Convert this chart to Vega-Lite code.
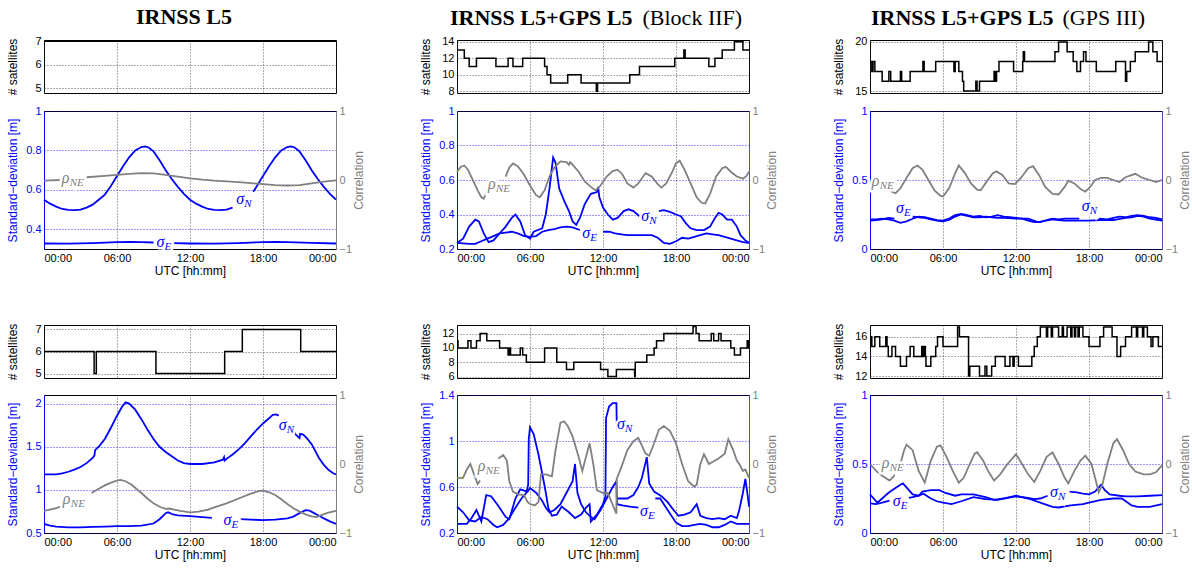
{
"$schema":"https://vega.github.io/schema/vega-lite/v6.json",
"padding":5,
"config":{
 "view":{"stroke":"black","strokeWidth":1},
 "font":"Liberation Sans",
 "axis":{"labelFont":"Liberation Sans","titleFont":"Liberation Sans","labelFontSize":11,"titleFontSize":12,"titleFontWeight":"normal","labelColor":"#000","titleColor":"#000","ticks":false,"domain":false,"gridDash":[1,2],"gridColor":"#333","gridOpacity":0.8,"labelPadding":3,"format":"~g"},
 "axisLeft":{"minExtent":20,"maxExtent":20,"titlePadding":5},
 "axisRight":{"minExtent":12,"maxExtent":12,"titlePadding":5,"titleAngle":270,"titleBaseline":"top"},
 "style":{
  "main":{"font":"Liberation Serif","fontStyle":"italic","fontSize":16,"align":"left","baseline":"middle"},
  "sub":{"font":"Liberation Serif","fontStyle":"italic","fontSize":11,"align":"left","baseline":"middle","dx":8,"dy":5}
 },
 "title":{"font":"Liberation Serif","fontSize":22,"fontWeight":"bold","color":"black","anchor":"start","frame":"bounds","offset":6}
},
"datasets":{
"sA":[{"t":0,"v":7},{"t":24,"v":7}],
"sB":[{"t":0,"v":13},{"t":0.6,"v":12},{"t":1,"v":11},{"t":1.6,"v":12},{"t":3.2,"v":11},{"t":4.2,"v":12},{"t":4.6,"v":11},{"t":5.4,"v":12},{"t":7.2,"v":11},{"t":7.4,"v":10},{"t":7.7,"v":9},{"t":9.1,"v":10},{"t":10.2,"v":9},{"t":11.45,"v":8},{"t":11.55,"v":9},{"t":14.2,"v":10},{"t":15,"v":11},{"t":17.9,"v":12},{"t":18.65,"v":13},{"t":18.75,"v":12},{"t":20.7,"v":11},{"t":21.2,"v":12},{"t":21.8,"v":13},{"t":22.8,"v":14},{"t":23.5,"v":13},{"t":24,"v":13}],
"sC":[{"t":0,"v":18},{"t":0.15,"v":17},{"t":0.25,"v":18},{"t":0.4,"v":17},{"t":1,"v":16},{"t":1.55,"v":17},{"t":1.7,"v":16},{"t":2.5,"v":17},{"t":2.6,"v":16},{"t":3.3,"v":17},{"t":4.35,"v":18},{"t":4.45,"v":17},{"t":5.4,"v":18},{"t":6.9,"v":17},{"t":7,"v":18},{"t":7.3,"v":17},{"t":7.6,"v":16},{"t":7.7,"v":15},{"t":8.7,"v":16},{"t":8.8,"v":15},{"t":9,"v":16},{"t":10.2,"v":17},{"t":10.3,"v":16},{"t":10.4,"v":17},{"t":10.6,"v":18},{"t":11.8,"v":17},{"t":12.55,"v":18},{"t":12.6,"v":19},{"t":12.7,"v":18},{"t":15.2,"v":19},{"t":15.5,"v":20},{"t":16.2,"v":19},{"t":16.7,"v":18},{"t":17,"v":17},{"t":17.3,"v":18},{"t":17.55,"v":19},{"t":17.75,"v":18},{"t":18.6,"v":17},{"t":20.2,"v":18},{"t":21,"v":16},{"t":21.1,"v":17},{"t":21.4,"v":18},{"t":21.8,"v":19},{"t":22.9,"v":20},{"t":23.25,"v":19},{"t":23.6,"v":18},{"t":24,"v":18}],
"sD":[{"t":0,"v":6},{"t":4.12,"v":5},{"t":4.3,"v":6},{"t":9.2,"v":5},{"t":14.85,"v":6},{"t":16.3,"v":7},{"t":21.1,"v":6},{"t":24,"v":6}],
"sE":[{"t":0,"v":11},{"t":0.08,"v":10},{"t":0.9,"v":11},{"t":1.15,"v":10},{"t":1.6,"v":11},{"t":1.9,"v":12},{"t":2.45,"v":11},{"t":3.5,"v":10},{"t":4.2,"v":9},{"t":4.3,"v":10},{"t":4.4,"v":9},{"t":5.2,"v":10},{"t":5.4,"v":9},{"t":5.7,"v":8},{"t":7.2,"v":10},{"t":8.2,"v":8},{"t":9,"v":7},{"t":9.6,"v":8},{"t":11.8,"v":7},{"t":12.4,"v":6},{"t":13.1,"v":7},{"t":14.6,"v":6},{"t":14.65,"v":8},{"t":15.6,"v":9},{"t":16.2,"v":10},{"t":16.4,"v":11},{"t":17,"v":12},{"t":19.4,"v":13},{"t":19.65,"v":12},{"t":19.9,"v":11},{"t":20.9,"v":12},{"t":21.1,"v":11},{"t":21.5,"v":12},{"t":21.7,"v":11},{"t":22.5,"v":10},{"t":22.8,"v":9},{"t":23.3,"v":10},{"t":23.85,"v":11},{"t":23.95,"v":10},{"t":24,"v":10}],
"sF":[{"t":0,"v":15},{"t":0.08,"v":16},{"t":0.15,"v":15},{"t":0.4,"v":16},{"t":0.8,"v":15},{"t":1.3,"v":16},{"t":1.4,"v":15},{"t":1.5,"v":14},{"t":1.8,"v":15},{"t":2.1,"v":14},{"t":2.5,"v":13},{"t":3,"v":14},{"t":3.3,"v":15},{"t":3.6,"v":14},{"t":4.25,"v":15},{"t":4.35,"v":14},{"t":4.45,"v":15},{"t":4.55,"v":14},{"t":4.6,"v":13},{"t":5,"v":14},{"t":5.4,"v":15},{"t":5.55,"v":16},{"t":6,"v":15},{"t":7.2,"v":17},{"t":7.35,"v":16},{"t":8.1,"v":12},{"t":8.2,"v":13},{"t":9,"v":12},{"t":9.45,"v":13},{"t":9.6,"v":12},{"t":10,"v":13},{"t":10.3,"v":14},{"t":11.1,"v":13},{"t":11.5,"v":14},{"t":11.75,"v":13},{"t":11.85,"v":14},{"t":12.2,"v":13},{"t":13.3,"v":14},{"t":13.5,"v":15},{"t":13.75,"v":16},{"t":14,"v":17},{"t":14.5,"v":16},{"t":14.6,"v":17},{"t":14.9,"v":16},{"t":15,"v":17},{"t":15.5,"v":16},{"t":15.8,"v":17},{"t":15.9,"v":16},{"t":16.2,"v":17},{"t":16.5,"v":16},{"t":16.6,"v":17},{"t":16.8,"v":16},{"t":16.9,"v":17},{"t":17.1,"v":16},{"t":17.2,"v":17},{"t":17.5,"v":16},{"t":18,"v":15},{"t":18.9,"v":16},{"t":19.2,"v":17},{"t":19.9,"v":16},{"t":20.3,"v":14},{"t":20.6,"v":15},{"t":21,"v":16},{"t":21.5,"v":17},{"t":21.9,"v":16},{"t":22,"v":17},{"t":22.4,"v":16},{"t":22.5,"v":17},{"t":22.8,"v":16},{"t":23.1,"v":15},{"t":23.25,"v":16},{"t":23.7,"v":15},{"t":24,"v":15}],
"dA":[
{"t":0,"v":0.55,"s":"N"},{"t":0.5,"v":0.53,"s":"N"},{"t":1,"v":0.515,"s":"N"},{"t":1.5,"v":0.503,"s":"N"},{"t":2,"v":0.498,"s":"N"},{"t":2.5,"v":0.497,"s":"N"},{"t":3,"v":0.5,"s":"N"},{"t":3.5,"v":0.51,"s":"N"},{"t":4,"v":0.525,"s":"N"},{"t":4.5,"v":0.55,"s":"N"},{"t":5,"v":0.576,"s":"N"},{"t":5.5,"v":0.62,"s":"N"},{"t":6,"v":0.67,"s":"N"},{"t":6.5,"v":0.72,"s":"N"},{"t":7,"v":0.765,"s":"N"},{"t":7.5,"v":0.8,"s":"N"},{"t":8,"v":0.817,"s":"N"},{"t":8.3,"v":0.82,"s":"N"},{"t":8.6,"v":0.815,"s":"N"},{"t":9,"v":0.795,"s":"N"},{"t":9.5,"v":0.75,"s":"N"},{"t":10,"v":0.7,"s":"N"},{"t":10.5,"v":0.655,"s":"N"},{"t":11,"v":0.615,"s":"N"},{"t":11.5,"v":0.58,"s":"N"},{"t":12,"v":0.55,"s":"N"},{"t":12.5,"v":0.53,"s":"N"},{"t":13,"v":0.515,"s":"N"},{"t":13.5,"v":0.503,"s":"N"},{"t":14,"v":0.498,"s":"N"},{"t":14.5,"v":0.497,"s":"N"},{"t":15,"v":0.5,"s":"N"},{"t":15.5,"v":0.51,"s":"N"},
{"t":17.2,"v":0.59,"s":"N2"},{"t":17.5,"v":0.62,"s":"N2"},{"t":18,"v":0.67,"s":"N2"},{"t":18.5,"v":0.72,"s":"N2"},{"t":19,"v":0.765,"s":"N2"},{"t":19.5,"v":0.8,"s":"N2"},{"t":20,"v":0.817,"s":"N2"},{"t":20.3,"v":0.82,"s":"N2"},{"t":20.6,"v":0.815,"s":"N2"},{"t":21,"v":0.795,"s":"N2"},{"t":21.5,"v":0.75,"s":"N2"},{"t":22,"v":0.7,"s":"N2"},{"t":22.5,"v":0.655,"s":"N2"},{"t":23,"v":0.615,"s":"N2"},{"t":23.5,"v":0.58,"s":"N2"},{"t":24,"v":0.55,"s":"N2"},
{"t":0,"v":0.328,"s":"E"},{"t":2,"v":0.327,"s":"E"},{"t":4,"v":0.33,"s":"E"},{"t":6,"v":0.335,"s":"E"},{"t":7,"v":0.336,"s":"E"},{"t":8,"v":0.335,"s":"E"},{"t":9,"v":0.333,"s":"E"},
{"t":10.7,"v":0.33,"s":"E2"},{"t":12,"v":0.328,"s":"E2"},{"t":14,"v":0.327,"s":"E2"},{"t":16,"v":0.33,"s":"E2"},{"t":18,"v":0.335,"s":"E2"},{"t":19,"v":0.336,"s":"E2"},{"t":20,"v":0.335,"s":"E2"},{"t":22,"v":0.331,"s":"E2"},{"t":24,"v":0.328,"s":"E2"},
{"t":0,"v":-0.01,"s":"R"},{"t":1.3,"v":0,"s":"R"},
{"t":3.5,"v":0.04,"s":"R2"},{"t":5,"v":0.06,"s":"R2"},{"t":6,"v":0.075,"s":"R2"},{"t":7,"v":0.09,"s":"R2"},{"t":8,"v":0.1,"s":"R2"},{"t":9,"v":0.095,"s":"R2"},{"t":10,"v":0.075,"s":"R2"},{"t":11,"v":0.05,"s":"R2"},{"t":12,"v":0.025,"s":"R2"},{"t":13,"v":0.005,"s":"R2"},{"t":14,"v":-0.01,"s":"R2"},{"t":15,"v":-0.02,"s":"R2"},{"t":16,"v":-0.03,"s":"R2"},{"t":17,"v":-0.045,"s":"R2"},{"t":18,"v":-0.06,"s":"R2"},{"t":19,"v":-0.075,"s":"R2"},{"t":20,"v":-0.08,"s":"R2"},{"t":21,"v":-0.075,"s":"R2"},{"t":22,"v":-0.05,"s":"R2"},{"t":23,"v":-0.025,"s":"R2"},{"t":24,"v":-0.005,"s":"R2"}],
"dB":[
{"t":0,"v":0.235,"s":"N"},{"t":0.5,"v":0.26,"s":"N"},{"t":1,"v":0.33,"s":"N"},{"t":1.5,"v":0.37,"s":"N"},{"t":1.8,"v":0.36,"s":"N"},{"t":2.2,"v":0.29,"s":"N"},{"t":2.6,"v":0.24,"s":"N"},{"t":3,"v":0.25,"s":"N"},{"t":3.5,"v":0.29,"s":"N"},{"t":4,"v":0.33,"s":"N"},{"t":4.5,"v":0.38,"s":"N"},{"t":4.8,"v":0.4,"s":"N"},{"t":5.2,"v":0.36,"s":"N"},{"t":5.6,"v":0.28,"s":"N"},{"t":6,"v":0.26,"s":"N"},{"t":6.3,"v":0.3,"s":"N"},{"t":7,"v":0.32,"s":"N"},{"t":7.3,"v":0.4,"s":"N"},{"t":7.6,"v":0.55,"s":"N"},{"t":7.9,"v":0.73,"s":"N"},{"t":8.1,"v":0.7,"s":"N"},{"t":8.4,"v":0.55,"s":"N"},{"t":8.8,"v":0.48,"s":"N"},{"t":9.2,"v":0.42,"s":"N"},{"t":9.5,"v":0.36,"s":"N"},{"t":9.8,"v":0.34,"s":"N"},{"t":10.1,"v":0.38,"s":"N"},{"t":10.5,"v":0.46,"s":"N"},{"t":11,"v":0.52,"s":"N"},{"t":11.5,"v":0.53,"s":"N"},{"t":11.6,"v":0.56,"s":"N"},{"t":11.7,"v":0.5,"s":"N"},{"t":12,"v":0.44,"s":"N"},{"t":12.4,"v":0.4,"s":"N"},{"t":12.8,"v":0.37,"s":"N"},{"t":13.2,"v":0.38,"s":"N"},{"t":13.7,"v":0.42,"s":"N"},{"t":14.1,"v":0.43,"s":"N"},{"t":14.5,"v":0.42,"s":"N"},{"t":15,"v":0.39,"s":"N"},
{"t":16.6,"v":0.42,"s":"N2"},{"t":17,"v":0.425,"s":"N2"},{"t":17.5,"v":0.415,"s":"N2"},{"t":18,"v":0.4,"s":"N2"},{"t":18.4,"v":0.39,"s":"N2"},{"t":18.8,"v":0.35,"s":"N2"},{"t":19.2,"v":0.32,"s":"N2"},{"t":19.7,"v":0.31,"s":"N2"},{"t":20.3,"v":0.31,"s":"N2"},{"t":20.8,"v":0.33,"s":"N2"},{"t":21.2,"v":0.38,"s":"N2"},{"t":21.5,"v":0.41,"s":"N2"},{"t":21.8,"v":0.4,"s":"N2"},{"t":22.2,"v":0.37,"s":"N2"},{"t":22.6,"v":0.37,"s":"N2"},{"t":23,"v":0.33,"s":"N2"},{"t":23.3,"v":0.28,"s":"N2"},{"t":23.7,"v":0.25,"s":"N2"},{"t":24,"v":0.235,"s":"N2"},
{"t":0,"v":0.235,"s":"E"},{"t":1,"v":0.23,"s":"E"},{"t":1.5,"v":0.23,"s":"E"},{"t":2,"v":0.245,"s":"E"},{"t":2.5,"v":0.26,"s":"E"},{"t":3,"v":0.275,"s":"E"},{"t":3.5,"v":0.29,"s":"E"},{"t":4,"v":0.295,"s":"E"},{"t":4.5,"v":0.3,"s":"E"},{"t":5,"v":0.29,"s":"E"},{"t":5.5,"v":0.275,"s":"E"},{"t":6,"v":0.27,"s":"E"},{"t":6.5,"v":0.275,"s":"E"},{"t":7,"v":0.3,"s":"E"},{"t":7.5,"v":0.31,"s":"E"},{"t":8,"v":0.315,"s":"E"},{"t":8.5,"v":0.325,"s":"E"},{"t":9,"v":0.33,"s":"E"},{"t":9.5,"v":0.325,"s":"E"},{"t":10.1,"v":0.31,"s":"E"},
{"t":12,"v":0.3,"s":"E2"},{"t":12.5,"v":0.3,"s":"E2"},{"t":13,"v":0.29,"s":"E2"},{"t":13.5,"v":0.285,"s":"E2"},{"t":14,"v":0.28,"s":"E2"},{"t":15,"v":0.28,"s":"E2"},{"t":16,"v":0.28,"s":"E2"},{"t":16.5,"v":0.265,"s":"E2"},{"t":17,"v":0.235,"s":"E2"},{"t":17.5,"v":0.23,"s":"E2"},{"t":18,"v":0.245,"s":"E2"},{"t":18.5,"v":0.265,"s":"E2"},{"t":19,"v":0.26,"s":"E2"},{"t":19.5,"v":0.27,"s":"E2"},{"t":20,"v":0.28,"s":"E2"},{"t":20.5,"v":0.29,"s":"E2"},{"t":21,"v":0.285,"s":"E2"},{"t":21.5,"v":0.28,"s":"E2"},{"t":22,"v":0.27,"s":"E2"},{"t":22.5,"v":0.26,"s":"E2"},{"t":23,"v":0.25,"s":"E2"},{"t":23.5,"v":0.24,"s":"E2"},{"t":24,"v":0.235,"s":"E2"},
{"t":0,"v":0.12,"s":"R"},{"t":0.3,"v":0.19,"s":"R"},{"t":0.6,"v":0.21,"s":"R"},{"t":0.9,"v":0.15,"s":"R"},{"t":1.3,"v":0,"s":"R"},{"t":1.7,"v":-0.15,"s":"R"},{"t":2,"v":-0.25,"s":"R"},{"t":2.2,"v":-0.27,"s":"R"},{"t":2.5,"v":-0.15,"s":"R"},
{"t":4.0,"v":0.05,"s":"R2"},{"t":4.3,"v":0.18,"s":"R2"},{"t":4.6,"v":0.24,"s":"R2"},{"t":5,"v":0.2,"s":"R2"},{"t":5.5,"v":0.08,"s":"R2"},{"t":6,"v":-0.08,"s":"R2"},{"t":6.5,"v":-0.22,"s":"R2"},{"t":6.8,"v":-0.25,"s":"R2"},{"t":7.2,"v":-0.15,"s":"R2"},{"t":7.6,"v":0.05,"s":"R2"},{"t":8,"v":0.18,"s":"R2"},{"t":8.5,"v":0.27,"s":"R2"},{"t":9,"v":0.26,"s":"R2"},{"t":9.2,"v":0.22,"s":"R2"},{"t":9.3,"v":0.26,"s":"R2"},{"t":9.6,"v":0.2,"s":"R2"},{"t":10,"v":0.12,"s":"R2"},{"t":10.5,"v":-0.02,"s":"R2"},{"t":11,"v":-0.1,"s":"R2"},{"t":11.4,"v":-0.15,"s":"R2"},{"t":11.8,"v":-0.08,"s":"R2"},{"t":12.3,"v":0.05,"s":"R2"},{"t":12.8,"v":0.13,"s":"R2"},{"t":13.2,"v":0.15,"s":"R2"},{"t":13.6,"v":0.08,"s":"R2"},{"t":14,"v":-0.05,"s":"R2"},{"t":14.5,"v":-0.11,"s":"R2"},{"t":14.9,"v":-0.05,"s":"R2"},{"t":15.5,"v":0.1,"s":"R2"},{"t":16,"v":0.05,"s":"R2"},{"t":16.5,"v":-0.06,"s":"R2"},{"t":16.8,"v":-0.11,"s":"R2"},{"t":17.2,"v":-0.05,"s":"R2"},{"t":17.7,"v":0.12,"s":"R2"},{"t":18,"v":0.24,"s":"R2"},{"t":18.3,"v":0.28,"s":"R2"},{"t":18.7,"v":0.15,"s":"R2"},{"t":19.2,"v":-0.05,"s":"R2"},{"t":19.7,"v":-0.25,"s":"R2"},{"t":20.1,"v":-0.33,"s":"R2"},{"t":20.4,"v":-0.34,"s":"R2"},{"t":20.8,"v":-0.2,"s":"R2"},{"t":21.3,"v":0.05,"s":"R2"},{"t":21.8,"v":0.17,"s":"R2"},{"t":22.1,"v":0.19,"s":"R2"},{"t":22.5,"v":0.12,"s":"R2"},{"t":23,"v":0.05,"s":"R2"},{"t":23.5,"v":0.02,"s":"R2"},{"t":23.8,"v":0.06,"s":"R2"},{"t":24,"v":0.12,"s":"R2"}],
"dC":[
{"t":1.5,"v":-0.1,"s":"R"},{"t":1.8,"v":-0.17,"s":"R"},{"t":2.1,"v":-0.19,"s":"R"},{"t":2.5,"v":-0.12,"s":"R"},{"t":3,"v":0.03,"s":"R"},{"t":3.5,"v":0.17,"s":"R"},{"t":3.9,"v":0.21,"s":"R"},{"t":4.3,"v":0.15,"s":"R"},{"t":4.8,"v":0,"s":"R"},{"t":5.3,"v":-0.15,"s":"R"},{"t":5.8,"v":-0.23,"s":"R"},{"t":6,"v":-0.24,"s":"R"},{"t":6.5,"v":-0.12,"s":"R"},{"t":7,"v":0.1,"s":"R"},{"t":7.3,"v":0.21,"s":"R"},{"t":7.8,"v":0.1,"s":"R"},{"t":8.3,"v":-0.05,"s":"R"},{"t":8.8,"v":-0.14,"s":"R"},{"t":9.1,"v":-0.15,"s":"R"},{"t":9.6,"v":-0.02,"s":"R"},{"t":10.1,"v":0.1,"s":"R"},{"t":10.4,"v":0.125,"s":"R"},{"t":10.9,"v":0.07,"s":"R"},{"t":11.4,"v":-0.05,"s":"R"},{"t":11.9,"v":-0.06,"s":"R"},{"t":12.4,"v":0.03,"s":"R"},{"t":13,"v":0.17,"s":"R"},{"t":13.4,"v":0.2,"s":"R"},{"t":13.9,"v":0.07,"s":"R"},{"t":14.4,"v":-0.1,"s":"R"},{"t":15,"v":-0.2,"s":"R"},{"t":15.5,"v":-0.21,"s":"R"},{"t":16,"v":-0.1,"s":"R"},{"t":16.3,"v":-0.01,"s":"R"},{"t":16.8,"v":-0.05,"s":"R"},{"t":17.3,"v":-0.13,"s":"R"},{"t":17.7,"v":-0.17,"s":"R"},{"t":18.1,"v":-0.1,"s":"R"},{"t":18.5,"v":0,"s":"R"},{"t":19,"v":0.03,"s":"R"},{"t":19.5,"v":0.03,"s":"R"},{"t":20,"v":0,"s":"R"},{"t":20.5,"v":-0.03,"s":"R"},{"t":21,"v":0.04,"s":"R"},{"t":21.8,"v":0.09,"s":"R"},{"t":22.4,"v":0.03,"s":"R"},{"t":23,"v":0,"s":"R"},{"t":23.5,"v":-0.03,"s":"R"},{"t":24,"v":0,"s":"R"},
{"t":0,"v":0.205,"s":"E"},{"t":0.5,"v":0.21,"s":"E"},{"t":1,"v":0.215,"s":"E"},{"t":1.5,"v":0.225,"s":"E"},{"t":2,"v":0.22,"s":"E"},
{"t":3.5,"v":0.235,"s":"E2"},{"t":4,"v":0.23,"s":"E2"},{"t":4.5,"v":0.225,"s":"E2"},{"t":5,"v":0.215,"s":"E2"},{"t":5.5,"v":0.205,"s":"E2"},{"t":6,"v":0.2,"s":"E2"},{"t":6.5,"v":0.21,"s":"E2"},{"t":7,"v":0.235,"s":"E2"},{"t":7.5,"v":0.25,"s":"E2"},{"t":8,"v":0.24,"s":"E2"},{"t":8.5,"v":0.23,"s":"E2"},{"t":9,"v":0.23,"s":"E2"},{"t":9.5,"v":0.235,"s":"E2"},{"t":10,"v":0.23,"s":"E2"},{"t":10.5,"v":0.225,"s":"E2"},{"t":11,"v":0.225,"s":"E2"},{"t":12,"v":0.22,"s":"E2"},{"t":13,"v":0.22,"s":"E2"},{"t":13.8,"v":0.195,"s":"E2"},{"t":14.5,"v":0.205,"s":"E2"},{"t":15,"v":0.215,"s":"E2"},{"t":15.5,"v":0.21,"s":"E2"},{"t":16,"v":0.205,"s":"E2"},{"t":17,"v":0.205,"s":"E2"},{"t":18,"v":0.205,"s":"E2"},{"t":19,"v":0.21,"s":"E2"},{"t":20,"v":0.21,"s":"E2"},{"t":21,"v":0.225,"s":"E2"},{"t":21.5,"v":0.23,"s":"E2"},{"t":22,"v":0.24,"s":"E2"},{"t":22.5,"v":0.235,"s":"E2"},{"t":23,"v":0.22,"s":"E2"},{"t":24,"v":0.205,"s":"E2"},
{"t":0,"v":0.215,"s":"N"},{"t":0.5,"v":0.215,"s":"N"},{"t":1,"v":0.22,"s":"N"},{"t":1.5,"v":0.215,"s":"N"},{"t":2,"v":0.205,"s":"N"},{"t":2.5,"v":0.19,"s":"N"},{"t":3,"v":0.2,"s":"N"},{"t":3.5,"v":0.22,"s":"N"},{"t":4,"v":0.235,"s":"N"},{"t":4.5,"v":0.23,"s":"N"},{"t":5,"v":0.22,"s":"N"},{"t":5.5,"v":0.21,"s":"N"},{"t":6,"v":0.205,"s":"N"},{"t":6.5,"v":0.22,"s":"N"},{"t":7,"v":0.245,"s":"N"},{"t":7.5,"v":0.255,"s":"N"},{"t":8,"v":0.245,"s":"N"},{"t":8.5,"v":0.235,"s":"N"},{"t":9,"v":0.24,"s":"N"},{"t":9.5,"v":0.23,"s":"N"},{"t":10,"v":0.235,"s":"N"},{"t":10.5,"v":0.245,"s":"N"},{"t":11,"v":0.235,"s":"N"},{"t":11.5,"v":0.23,"s":"N"},{"t":12,"v":0.225,"s":"N"},{"t":12.5,"v":0.22,"s":"N"},{"t":13,"v":0.205,"s":"N"},{"t":13.5,"v":0.195,"s":"N"},{"t":14,"v":0.195,"s":"N"},{"t":14.5,"v":0.21,"s":"N"},{"t":15,"v":0.22,"s":"N"},{"t":15.5,"v":0.215,"s":"N"},{"t":16,"v":0.22,"s":"N"},{"t":16.5,"v":0.22,"s":"N"},{"t":17.2,"v":0.22,"s":"N"},
{"t":18.8,"v":0.22,"s":"N2"},{"t":19.5,"v":0.215,"s":"N2"},{"t":20,"v":0.225,"s":"N2"},{"t":20.5,"v":0.235,"s":"N2"},{"t":21,"v":0.23,"s":"N2"},{"t":21.5,"v":0.24,"s":"N2"},{"t":22,"v":0.245,"s":"N2"},{"t":22.5,"v":0.24,"s":"N2"},{"t":23,"v":0.23,"s":"N2"},{"t":23.5,"v":0.225,"s":"N2"},{"t":24,"v":0.215,"s":"N2"}],
"dD":[
{"t":0,"v":1.18,"s":"N"},{"t":1,"v":1.18,"s":"N"},{"t":1.5,"v":1.19,"s":"N"},{"t":2,"v":1.21,"s":"N"},{"t":2.5,"v":1.235,"s":"N"},{"t":3,"v":1.265,"s":"N"},{"t":3.5,"v":1.31,"s":"N"},{"t":4,"v":1.37,"s":"N"},{"t":4.15,"v":1.4,"s":"N"},{"t":4.2,"v":1.46,"s":"N"},{"t":4.5,"v":1.5,"s":"N"},{"t":5,"v":1.59,"s":"N"},{"t":5.5,"v":1.72,"s":"N"},{"t":6,"v":1.86,"s":"N"},{"t":6.4,"v":1.96,"s":"N"},{"t":6.7,"v":2.015,"s":"N"},{"t":7,"v":2,"s":"N"},{"t":7.5,"v":1.93,"s":"N"},{"t":8,"v":1.82,"s":"N"},{"t":8.5,"v":1.7,"s":"N"},{"t":9,"v":1.59,"s":"N"},{"t":9.5,"v":1.5,"s":"N"},{"t":10,"v":1.44,"s":"N"},{"t":10.5,"v":1.39,"s":"N"},{"t":11,"v":1.34,"s":"N"},{"t":11.5,"v":1.31,"s":"N"},{"t":12,"v":1.3,"s":"N"},{"t":13,"v":1.3,"s":"N"},{"t":14,"v":1.32,"s":"N"},{"t":14.7,"v":1.35,"s":"N"},{"t":14.8,"v":1.38,"s":"N"},{"t":14.85,"v":1.34,"s":"N"},{"t":15,"v":1.36,"s":"N"},{"t":15.5,"v":1.41,"s":"N"},{"t":16,"v":1.47,"s":"N"},{"t":16.5,"v":1.54,"s":"N"},{"t":17,"v":1.62,"s":"N"},{"t":17.5,"v":1.7,"s":"N"},{"t":18,"v":1.77,"s":"N"},{"t":18.5,"v":1.83,"s":"N"},{"t":18.8,"v":1.87,"s":"N"},{"t":19.1,"v":1.875,"s":"N"},{"t":19.3,"v":1.86,"s":"N"},
{"t":20.4,"v":1.69,"s":"N2"},{"t":20.7,"v":1.64,"s":"N2"},{"t":21,"v":1.6,"s":"N2"},{"t":21.05,"v":1.65,"s":"N2"},{"t":21.3,"v":1.64,"s":"N2"},{"t":21.6,"v":1.6,"s":"N2"},{"t":22,"v":1.53,"s":"N2"},{"t":22.3,"v":1.45,"s":"N2"},{"t":22.6,"v":1.37,"s":"N2"},{"t":23,"v":1.29,"s":"N2"},{"t":23.4,"v":1.23,"s":"N2"},{"t":23.8,"v":1.19,"s":"N2"},{"t":24,"v":1.18,"s":"N2"},
{"t":0,"v":0.605,"s":"E"},{"t":0.5,"v":0.585,"s":"E"},{"t":1,"v":0.575,"s":"E"},{"t":2,"v":0.565,"s":"E"},{"t":3,"v":0.565,"s":"E"},{"t":4,"v":0.57,"s":"E"},{"t":5,"v":0.575,"s":"E"},{"t":6,"v":0.58,"s":"E"},{"t":7,"v":0.58,"s":"E"},{"t":8,"v":0.585,"s":"E"},{"t":9,"v":0.61,"s":"E"},{"t":9.5,"v":0.66,"s":"E"},{"t":10,"v":0.73,"s":"E"},{"t":10.2,"v":0.74,"s":"E"},{"t":10.6,"v":0.715,"s":"E"},{"t":11,"v":0.705,"s":"E"},{"t":12,"v":0.695,"s":"E"},{"t":13,"v":0.685,"s":"E"},{"t":13.8,"v":0.675,"s":"E"},
{"t":16.1,"v":0.66,"s":"E2"},{"t":17,"v":0.655,"s":"E2"},{"t":18,"v":0.65,"s":"E2"},{"t":19,"v":0.655,"s":"E2"},{"t":20,"v":0.67,"s":"E2"},{"t":20.5,"v":0.69,"s":"E2"},{"t":21,"v":0.73,"s":"E2"},{"t":21.5,"v":0.765,"s":"E2"},{"t":21.8,"v":0.76,"s":"E2"},{"t":22.2,"v":0.73,"s":"E2"},{"t":22.6,"v":0.7,"s":"E2"},{"t":23,"v":0.67,"s":"E2"},{"t":23.5,"v":0.635,"s":"E2"},{"t":24,"v":0.605,"s":"E2"},
{"t":0,"v":-0.68,"s":"R"},{"t":0.5,"v":-0.66,"s":"R"},{"t":1,"v":-0.64,"s":"R"},{"t":1.5,"v":-0.61,"s":"R"},
{"t":3.9,"v":-0.42,"s":"R2"},{"t":4.5,"v":-0.36,"s":"R2"},{"t":5,"v":-0.31,"s":"R2"},{"t":5.5,"v":-0.27,"s":"R2"},{"t":6,"v":-0.24,"s":"R2"},{"t":6.3,"v":-0.23,"s":"R2"},{"t":6.7,"v":-0.25,"s":"R2"},{"t":7.2,"v":-0.3,"s":"R2"},{"t":8,"v":-0.42,"s":"R2"},{"t":8.5,"v":-0.5,"s":"R2"},{"t":9,"v":-0.57,"s":"R2"},{"t":9.5,"v":-0.62,"s":"R2"},{"t":10,"v":-0.65,"s":"R2"},{"t":10.3,"v":-0.645,"s":"R2"},{"t":10.7,"v":-0.66,"s":"R2"},{"t":11.2,"v":-0.68,"s":"R2"},{"t":12,"v":-0.7,"s":"R2"},{"t":12.7,"v":-0.69,"s":"R2"},{"t":13.5,"v":-0.66,"s":"R2"},{"t":14,"v":-0.63,"s":"R2"},{"t":15,"v":-0.57,"s":"R2"},{"t":16,"v":-0.5,"s":"R2"},{"t":17,"v":-0.43,"s":"R2"},{"t":17.7,"v":-0.39,"s":"R2"},{"t":18,"v":-0.385,"s":"R2"},{"t":18.5,"v":-0.41,"s":"R2"},{"t":19,"v":-0.45,"s":"R2"},{"t":19.5,"v":-0.51,"s":"R2"},{"t":20,"v":-0.58,"s":"R2"},{"t":20.5,"v":-0.64,"s":"R2"},{"t":21,"v":-0.69,"s":"R2"},{"t":21.5,"v":-0.73,"s":"R2"},{"t":22,"v":-0.76,"s":"R2"},{"t":22.4,"v":-0.77,"s":"R2"},{"t":22.8,"v":-0.74,"s":"R2"},{"t":23.3,"v":-0.71,"s":"R2"},{"t":24,"v":-0.68,"s":"R2"}],
"dE":[
{"t":0,"v":0.43,"s":"N"},{"t":0.5,"v":0.38,"s":"N"},{"t":1,"v":0.31,"s":"N"},{"t":1.5,"v":0.3,"s":"N"},{"t":2,"v":0.34,"s":"N"},{"t":2.5,"v":0.32,"s":"N"},{"t":3,"v":0.27,"s":"N"},{"t":3.3,"v":0.25,"s":"N"},{"t":3.8,"v":0.27,"s":"N"},{"t":4.3,"v":0.33,"s":"N"},{"t":4.8,"v":0.42,"s":"N"},{"t":5.3,"v":0.5,"s":"N"},{"t":5.7,"v":0.55,"s":"N"},{"t":5.85,"v":0.62,"s":"N"},{"t":5.9,"v":1.02,"s":"N"},{"t":6,"v":1.12,"s":"N"},{"t":6.3,"v":1.06,"s":"N"},{"t":6.7,"v":0.88,"s":"N"},{"t":7,"v":0.72,"s":"N"},{"t":7.3,"v":0.55,"s":"N"},{"t":7.5,"v":0.42,"s":"N"},{"t":7.8,"v":0.35,"s":"N"},{"t":8.2,"v":0.36,"s":"N"},{"t":8.6,"v":0.43,"s":"N"},{"t":9.2,"v":0.38,"s":"N"},{"t":9.7,"v":0.33,"s":"N"},{"t":10.2,"v":0.36,"s":"N"},{"t":10.6,"v":0.42,"s":"N"},{"t":10.9,"v":0.45,"s":"N"},{"t":11,"v":0.3,"s":"N"},{"t":11.5,"v":0.36,"s":"N"},{"t":12,"v":0.45,"s":"N"},{"t":12.2,"v":0.52,"s":"N"},{"t":12.25,"v":1.2,"s":"N"},{"t":12.5,"v":1.3,"s":"N"},{"t":12.8,"v":1.33,"s":"N"},{"t":13.1,"v":1.33,"s":"N"},{"t":13.14,"v":1.1,"s":"N"},
{"t":13.2,"v":0.5,"s":"N2"},{"t":13.6,"v":0.5,"s":"N2"},{"t":14,"v":0.5,"s":"N2"},{"t":14.5,"v":0.53,"s":"N2"},{"t":14.9,"v":0.6,"s":"N2"},{"t":15.2,"v":0.68,"s":"N2"},{"t":15.6,"v":0.86,"s":"N2"},{"t":15.8,"v":0.63,"s":"N2"},{"t":16.2,"v":0.56,"s":"N2"},{"t":16.8,"v":0.52,"s":"N2"},{"t":17.3,"v":0.47,"s":"N2"},{"t":17.8,"v":0.4,"s":"N2"},{"t":18.2,"v":0.35,"s":"N2"},{"t":18.7,"v":0.36,"s":"N2"},{"t":19.2,"v":0.38,"s":"N2"},{"t":19.7,"v":0.45,"s":"N2"},{"t":20,"v":0.35,"s":"N2"},{"t":20.5,"v":0.33,"s":"N2"},{"t":21,"v":0.32,"s":"N2"},{"t":21.5,"v":0.33,"s":"N2"},{"t":22,"v":0.32,"s":"N2"},{"t":22.5,"v":0.35,"s":"N2"},{"t":23,"v":0.33,"s":"N2"},{"t":23.2,"v":0.4,"s":"N2"},{"t":23.5,"v":0.55,"s":"N2"},{"t":23.7,"v":0.67,"s":"N2"},{"t":23.9,"v":0.52,"s":"N2"},{"t":24,"v":0.43,"s":"N2"},
{"t":0,"v":0.28,"s":"E"},{"t":0.8,"v":0.28,"s":"E"},{"t":1.2,"v":0.33,"s":"E"},{"t":1.6,"v":0.4,"s":"E"},{"t":2,"v":0.3,"s":"E"},{"t":2.4,"v":0.53,"s":"E"},{"t":2.8,"v":0.52,"s":"E"},{"t":3.3,"v":0.45,"s":"E"},{"t":4,"v":0.34,"s":"E"},{"t":4.3,"v":0.32,"s":"E"},{"t":4.8,"v":0.5,"s":"E"},{"t":5.2,"v":0.58,"s":"E"},{"t":5.8,"v":0.56,"s":"E"},{"t":6,"v":0.59,"s":"E"},{"t":6.5,"v":0.55,"s":"E"},{"t":7,"v":0.48,"s":"E"},{"t":7.3,"v":0.42,"s":"E"},{"t":7.6,"v":0.38,"s":"E"},{"t":8,"v":0.4,"s":"E"},{"t":8.5,"v":0.45,"s":"E"},{"t":9,"v":0.55,"s":"E"},{"t":9.5,"v":0.65,"s":"E"},{"t":9.7,"v":0.8,"s":"E"},{"t":9.9,"v":0.55,"s":"E"},{"t":10.2,"v":0.45,"s":"E"},{"t":10.6,"v":0.38,"s":"E"},{"t":11,"v":0.34,"s":"E"},{"t":11.3,"v":0.32,"s":"E"},{"t":11.8,"v":0.4,"s":"E"},{"t":12.3,"v":0.5,"s":"E"},{"t":12.8,"v":0.6,"s":"E"},{"t":13.1,"v":0.65,"s":"E"},{"t":13.15,"v":0.45,"s":"E"},{"t":13.6,"v":0.44,"s":"E"},{"t":14.2,"v":0.43,"s":"E"},{"t":14.9,"v":0.42,"s":"E"},
{"t":16.3,"v":0.5,"s":"E2"},{"t":16.7,"v":0.5,"s":"E2"},{"t":17,"v":0.45,"s":"E2"},{"t":17.5,"v":0.37,"s":"E2"},{"t":18,"v":0.29,"s":"E2"},{"t":18.5,"v":0.26,"s":"E2"},{"t":19,"v":0.26,"s":"E2"},{"t":19.5,"v":0.27,"s":"E2"},{"t":20,"v":0.28,"s":"E2"},{"t":20.5,"v":0.27,"s":"E2"},{"t":21,"v":0.25,"s":"E2"},{"t":21.5,"v":0.25,"s":"E2"},{"t":22,"v":0.27,"s":"E2"},{"t":22.5,"v":0.3,"s":"E2"},{"t":23,"v":0.28,"s":"E2"},{"t":23.5,"v":0.28,"s":"E2"},{"t":24,"v":0.28,"s":"E2"},
{"t":0,"v":-0.2,"s":"R"},{"t":0.5,"v":-0.2,"s":"R"},{"t":0.8,"v":-0.08,"s":"R"},{"t":1.1,"v":0,"s":"R"},{"t":1.4,"v":-0.15,"s":"R"},{"t":1.7,"v":-0.29,"s":"R"},{"t":1.9,"v":-0.24,"s":"R"},
{"t":3.4,"v":0.08,"s":"R2"},{"t":3.8,"v":0.13,"s":"R2"},{"t":4.1,"v":0.05,"s":"R2"},{"t":4.3,"v":-0.25,"s":"R2"},{"t":4.6,"v":-0.4,"s":"R2"},{"t":5,"v":-0.44,"s":"R2"},{"t":5.5,"v":-0.45,"s":"R2"},{"t":5.8,"v":-0.55,"s":"R2"},{"t":6,"v":-0.58,"s":"R2"},{"t":6.4,"v":-0.6,"s":"R2"},{"t":6.7,"v":-0.55,"s":"R2"},{"t":6.9,"v":-0.15,"s":"R2"},{"t":7.3,"v":-0.15,"s":"R2"},{"t":7.8,"v":-0.18,"s":"R2"},{"t":8.1,"v":0.2,"s":"R2"},{"t":8.5,"v":0.6,"s":"R2"},{"t":8.8,"v":0.62,"s":"R2"},{"t":9.1,"v":0.55,"s":"R2"},{"t":9.5,"v":0.4,"s":"R2"},{"t":10,"v":0.1,"s":"R2"},{"t":10.3,"v":-0.1,"s":"R2"},{"t":10.6,"v":0.1,"s":"R2"},{"t":10.9,"v":0.3,"s":"R2"},{"t":11.2,"v":0,"s":"R2"},{"t":11.5,"v":-0.38,"s":"R2"},{"t":12,"v":-0.42,"s":"R2"},{"t":12.4,"v":-0.42,"s":"R2"},{"t":12.7,"v":-0.55,"s":"R2"},{"t":13.1,"v":-0.72,"s":"R2"},{"t":13.12,"v":-0.22,"s":"R2"},{"t":13.5,"v":-0.05,"s":"R2"},{"t":14,"v":0.2,"s":"R2"},{"t":14.5,"v":0.33,"s":"R2"},{"t":14.9,"v":0.38,"s":"R2"},{"t":15.5,"v":0.15,"s":"R2"},{"t":15.8,"v":0.12,"s":"R2"},{"t":16.2,"v":0.3,"s":"R2"},{"t":16.6,"v":0.5,"s":"R2"},{"t":17,"v":0.55,"s":"R2"},{"t":17.5,"v":0.48,"s":"R2"},{"t":18,"v":0.3,"s":"R2"},{"t":18.5,"v":0,"s":"R2"},{"t":19,"v":-0.25,"s":"R2"},{"t":19.5,"v":-0.33,"s":"R2"},{"t":19.7,"v":-0.3,"s":"R2"},{"t":20,"v":0,"s":"R2"},{"t":20.3,"v":0.14,"s":"R2"},{"t":20.7,"v":0,"s":"R2"},{"t":21,"v":0.03,"s":"R2"},{"t":21.5,"v":0.08,"s":"R2"},{"t":22,"v":0.15,"s":"R2"},{"t":22.3,"v":0.36,"s":"R2"},{"t":22.7,"v":0.2,"s":"R2"},{"t":23,"v":0.05,"s":"R2"},{"t":23.2,"v":0,"s":"R2"},{"t":23.5,"v":-0.1,"s":"R2"},{"t":23.7,"v":-0.08,"s":"R2"},{"t":24,"v":-0.2,"s":"R2"}],
"dF":[
{"t":0,"v":0,"s":"R"},{"t":0.5,"v":-0.1,"s":"R"},{"t":1,"v":-0.17,"s":"R"},{"t":1.6,"v":-0.24,"s":"R"},{"t":2,"v":-0.17,"s":"R"},{"t":2.5,"v":0,"s":"R"},{"t":2.8,"v":0.2,"s":"R"},{"t":3,"v":0.28,"s":"R"},{"t":3.5,"v":0.2,"s":"R"},{"t":4,"v":-0.1,"s":"R"},{"t":4.5,"v":-0.27,"s":"R"},{"t":5,"v":0.05,"s":"R"},{"t":5.5,"v":0.25,"s":"R"},{"t":5.8,"v":0.27,"s":"R"},{"t":6.3,"v":0.1,"s":"R"},{"t":6.8,"v":-0.1,"s":"R"},{"t":7.3,"v":-0.27,"s":"R"},{"t":7.7,"v":-0.2,"s":"R"},{"t":8.2,"v":0,"s":"R"},{"t":8.6,"v":0.15,"s":"R"},{"t":8.8,"v":0.17,"s":"R"},{"t":9.3,"v":0.05,"s":"R"},{"t":9.7,"v":-0.1,"s":"R"},{"t":10.2,"v":-0.24,"s":"R"},{"t":10.7,"v":-0.15,"s":"R"},{"t":11.3,"v":0,"s":"R"},{"t":12,"v":0.14,"s":"R"},{"t":12.5,"v":0,"s":"R"},{"t":13,"v":-0.15,"s":"R"},{"t":13.5,"v":-0.26,"s":"R"},{"t":14,"v":-0.1,"s":"R"},{"t":14.5,"v":0.1,"s":"R"},{"t":15,"v":0.17,"s":"R"},{"t":15.5,"v":0,"s":"R"},{"t":16,"v":-0.2,"s":"R"},{"t":16.3,"v":-0.28,"s":"R"},{"t":16.8,"v":-0.1,"s":"R"},{"t":17.3,"v":0.05,"s":"R"},{"t":17.7,"v":0.12,"s":"R"},{"t":18.2,"v":0,"s":"R"},{"t":18.5,"v":-0.2,"s":"R"},{"t":18.8,"v":-0.41,"s":"R"},{"t":19.1,"v":-0.3,"s":"R"},{"t":19.5,"v":0,"s":"R"},{"t":20,"v":0.3,"s":"R"},{"t":20.3,"v":0.36,"s":"R"},{"t":20.8,"v":0.2,"s":"R"},{"t":21.3,"v":0,"s":"R"},{"t":21.8,"v":-0.11,"s":"R"},{"t":22.5,"v":-0.15,"s":"R"},{"t":23,"v":-0.15,"s":"R"},{"t":23.5,"v":-0.12,"s":"R"},{"t":24,"v":-0.02,"s":"R"},
{"t":0,"v":0.28,"s":"N"},{"t":0.3,"v":0.25,"s":"N"},{"t":0.6,"v":0.22,"s":"N"},{"t":1,"v":0.25,"s":"N"},{"t":1.5,"v":0.29,"s":"N"},{"t":2,"v":0.32,"s":"N"},{"t":2.5,"v":0.35,"s":"N"},{"t":2.7,"v":0.36,"s":"N"},{"t":3,"v":0.33,"s":"N"},{"t":3.5,"v":0.28,"s":"N"},{"t":4,"v":0.27,"s":"N"},{"t":4.3,"v":0.3,"s":"N"},{"t":5,"v":0.31,"s":"N"},{"t":5.7,"v":0.31,"s":"N"},{"t":6.2,"v":0.29,"s":"N"},{"t":7,"v":0.27,"s":"N"},{"t":7.5,"v":0.28,"s":"N"},{"t":8.5,"v":0.28,"s":"N"},{"t":9.5,"v":0.26,"s":"N"},{"t":10.2,"v":0.24,"s":"N"},{"t":11,"v":0.25,"s":"N"},{"t":12,"v":0.265,"s":"N"},{"t":13,"v":0.255,"s":"N"},{"t":13.5,"v":0.245,"s":"N"},{"t":14,"v":0.25,"s":"N"},{"t":14.6,"v":0.27,"s":"N"},
{"t":16.4,"v":0.3,"s":"N2"},{"t":17,"v":0.295,"s":"N2"},{"t":17.5,"v":0.285,"s":"N2"},{"t":18,"v":0.28,"s":"N2"},{"t":18.5,"v":0.3,"s":"N2"},{"t":18.8,"v":0.33,"s":"N2"},{"t":19,"v":0.35,"s":"N2"},{"t":19.3,"v":0.31,"s":"N2"},{"t":19.7,"v":0.28,"s":"N2"},{"t":20.5,"v":0.27,"s":"N2"},{"t":21,"v":0.265,"s":"N2"},{"t":22,"v":0.265,"s":"N2"},{"t":23,"v":0.27,"s":"N2"},{"t":24,"v":0.275,"s":"N2"},
{"t":0,"v":0.215,"s":"E"},{"t":0.5,"v":0.21,"s":"E"},{"t":1,"v":0.22,"s":"E"},{"t":1.6,"v":0.235,"s":"E"},
{"t":3.2,"v":0.255,"s":"E2"},{"t":3.5,"v":0.26,"s":"E2"},{"t":4,"v":0.27,"s":"E2"},{"t":4.4,"v":0.285,"s":"E2"},{"t":5,"v":0.25,"s":"E2"},{"t":5.5,"v":0.23,"s":"E2"},{"t":6,"v":0.22,"s":"E2"},{"t":6.7,"v":0.21,"s":"E2"},{"t":7.5,"v":0.23,"s":"E2"},{"t":8.5,"v":0.26,"s":"E2"},{"t":9.5,"v":0.245,"s":"E2"},{"t":10.5,"v":0.24,"s":"E2"},{"t":11.5,"v":0.26,"s":"E2"},{"t":12,"v":0.27,"s":"E2"},{"t":13,"v":0.25,"s":"E2"},{"t":14,"v":0.22,"s":"E2"},{"t":15,"v":0.19,"s":"E2"},{"t":15.5,"v":0.185,"s":"E2"},{"t":16.5,"v":0.2,"s":"E2"},{"t":17.5,"v":0.21,"s":"E2"},{"t":18,"v":0.22,"s":"E2"},{"t":19,"v":0.24,"s":"E2"},{"t":20,"v":0.25,"s":"E2"},{"t":20.7,"v":0.25,"s":"E2"},{"t":21.5,"v":0.2,"s":"E2"},{"t":22,"v":0.19,"s":"E2"},{"t":23,"v":0.19,"s":"E2"},{"t":24,"v":0.21,"s":"E2"}],
"labels":[
{"p":"A","t":15.8,"v":0.555,"m":"σ","sub":"N"},{"p":"A","t":9.25,"v":0.338,"m":"σ","sub":"E"},{"p":"A","t":1.45,"v":0.03,"m":"ρ","sub":"NE"},
{"p":"B","t":15.15,"v":0.39,"m":"σ","sub":"N"},{"p":"B","t":10.3,"v":0.29,"m":"σ","sub":"E"},{"p":"B","t":2.55,"v":-0.06,"m":"ρ","sub":"NE"},
{"p":"C","t":17.4,"v":0.31,"m":"σ","sub":"N"},{"p":"C","t":2.13,"v":0.3,"m":"σ","sub":"E"},{"p":"C","t":0.14,"v":-0.01,"m":"ρ","sub":"NE"},
{"p":"D","t":19.3,"v":1.75,"m":"σ","sub":"N"},{"p":"D","t":14.75,"v":0.655,"m":"σ","sub":"E"},{"p":"D","t":1.55,"v":-0.5,"m":"ρ","sub":"NE"},
{"p":"E","t":13.15,"v":1.15,"m":"σ","sub":"N"},{"p":"E","t":15.05,"v":0.39,"m":"σ","sub":"E"},{"p":"E","t":1.7,"v":-0.03,"m":"ρ","sub":"NE"},
{"p":"F","t":14.8,"v":0.3,"m":"σ","sub":"N"},{"p":"F","t":1.87,"v":0.23,"m":"σ","sub":"E"},{"p":"F","t":0.96,"v":0.02,"m":"ρ","sub":"NE"}]
},
"spacing":53,
"hconcat":[
{"spacing":45,"vconcat":[
 {"spacing":18,"bounds":"flush","vconcat":[
  {"width":292,"height":53,"title":{"text":"IRNSS L5","dx":130},"data":{"name":"sA"},"mark":{"type":"line","interpolate":"step-after","color":"black","strokeWidth":1.5},
   "encoding":{"x":{"field":"t","type":"quantitative","scale":{"domain":[0,24],"nice":false,"zero":false},"axis":{"values":[0,6,12,18,24],"labels":false,"title":null,"grid":true}},
    "y":{"field":"v","type":"quantitative","scale":{"domain":[4.8,7.05],"nice":false,"zero":false},"axis":{"values":[5,6,7],"title":"# satellites","grid":true}}}},
  {"width":292,"height":138,
   "encoding":{"x":{"field":"t","type":"quantitative","scale":{"domain":[0,24],"nice":false,"zero":false},"axis":{"values":[0,6,12,18,24],"labelExpr":"datum.value == 24 ? '00:00' : (datum.value < 10 ? '0' : '') + datum.value + ':00'","title":"UTC [hh:mm]","grid":true,"titlePadding":2}}},
   "layer":[
    {"encoding":{"y":{"field":"v","type":"quantitative","scale":{"domain":[0.3,1],"nice":false,"zero":false},"axis":{"orient":"left","values":[0.4,0.6,0.8,1],"title":"Standard−deviation [m]","grid":true,"gridColor":"#0000ff","labelColor":"#0000ff","titleColor":"#0000ff","domain":true,"domainColor":"#0000ff"}}},
     "layer":[
      {"data":{"name":"dA"},"transform":[{"filter":"indexof(datum.s,'R') != 0"}],"mark":{"type":"line","color":"#0000ff","strokeWidth":1.8},"encoding":{"detail":{"field":"s"}}},
      {"data":{"name":"labels"},"transform":[{"filter":"datum.p=='A' && datum.m=='σ'"}],"mark":{"type":"text","style":"main","fill":"white","stroke":"white","strokeWidth":5},"encoding":{"text":{"field":"m"}}},
      {"data":{"name":"labels"},"transform":[{"filter":"datum.p=='A' && datum.m=='σ'"}],"mark":{"type":"text","style":"sub","fill":"white","stroke":"white","strokeWidth":5},"encoding":{"text":{"field":"sub"}}},
      {"data":{"name":"labels"},"transform":[{"filter":"datum.p=='A' && datum.m=='σ'"}],"mark":{"type":"text","style":"main","color":"#0000ff"},"encoding":{"text":{"field":"m"}}},
      {"data":{"name":"labels"},"transform":[{"filter":"datum.p=='A' && datum.m=='σ'"}],"mark":{"type":"text","style":"sub","color":"#0000ff"},"encoding":{"text":{"field":"sub"}}}
     ]},
    {"encoding":{"y":{"field":"v","type":"quantitative","scale":{"domain":[-1,1],"nice":false},"axis":{"orient":"right","values":[-1,0,1],"title":"Correlation","grid":false,"labelColor":"#808080","titleColor":"#808080","domain":true,"domainColor":"#808080"}}},
     "layer":[
      {"data":{"name":"dA"},"transform":[{"filter":"indexof(datum.s,'R') == 0"}],"mark":{"type":"line","color":"#808080","strokeWidth":1.8},"encoding":{"detail":{"field":"s"}}},
      {"data":{"name":"labels"},"transform":[{"filter":"datum.p=='A' && datum.m=='ρ'"}],"mark":{"type":"text","style":"main","fill":"white","stroke":"white","strokeWidth":5},"encoding":{"text":{"field":"m"}}},
      {"data":{"name":"labels"},"transform":[{"filter":"datum.p=='A' && datum.m=='ρ'"}],"mark":{"type":"text","style":"sub","fill":"white","stroke":"white","strokeWidth":5},"encoding":{"text":{"field":"sub"}}},
      {"data":{"name":"labels"},"transform":[{"filter":"datum.p=='A' && datum.m=='ρ'"}],"mark":{"type":"text","style":"main","color":"#808080"},"encoding":{"text":{"field":"m"}}},
      {"data":{"name":"labels"},"transform":[{"filter":"datum.p=='A' && datum.m=='ρ'"}],"mark":{"type":"text","style":"sub","color":"#808080"},"encoding":{"text":{"field":"sub"}}}
     ]}
   ],
   "resolve":{"scale":{"y":"independent"}}}
 ]},
 {"spacing":17,"bounds":"flush","vconcat":[
  {"width":292,"height":53,"data":{"name":"sD"},"mark":{"type":"line","interpolate":"step-after","color":"black","strokeWidth":1.5},
   "encoding":{"x":{"field":"t","type":"quantitative","scale":{"domain":[0,24],"nice":false,"zero":false},"axis":{"values":[0,6,12,18,24],"labels":false,"title":null,"grid":true}},
    "y":{"field":"v","type":"quantitative","scale":{"domain":[4.8,7.2],"nice":false,"zero":false},"axis":{"values":[5,6,7],"title":"# satellites","grid":true}}}},
  {"width":292,"height":138,
   "encoding":{"x":{"field":"t","type":"quantitative","scale":{"domain":[0,24],"nice":false,"zero":false},"axis":{"values":[0,6,12,18,24],"labelExpr":"datum.value == 24 ? '00:00' : (datum.value < 10 ? '0' : '') + datum.value + ':00'","title":"UTC [hh:mm]","grid":true,"titlePadding":2}}},
   "layer":[
    {"encoding":{"y":{"field":"v","type":"quantitative","scale":{"domain":[0.5,2.1],"nice":false,"zero":false},"axis":{"orient":"left","values":[0.5,1,1.5,2],"title":"Standard−deviation [m]","grid":true,"gridColor":"#0000ff","labelColor":"#0000ff","titleColor":"#0000ff","domain":true,"domainColor":"#0000ff"}}},
     "layer":[
      {"data":{"name":"dD"},"transform":[{"filter":"indexof(datum.s,'R') != 0"}],"mark":{"type":"line","color":"#0000ff","strokeWidth":1.8},"encoding":{"detail":{"field":"s"}}},
      {"data":{"name":"labels"},"transform":[{"filter":"datum.p=='D' && datum.m=='σ'"}],"mark":{"type":"text","style":"main","fill":"white","stroke":"white","strokeWidth":5},"encoding":{"text":{"field":"m"}}},
      {"data":{"name":"labels"},"transform":[{"filter":"datum.p=='D' && datum.m=='σ'"}],"mark":{"type":"text","style":"sub","fill":"white","stroke":"white","strokeWidth":5},"encoding":{"text":{"field":"sub"}}},
      {"data":{"name":"labels"},"transform":[{"filter":"datum.p=='D' && datum.m=='σ'"}],"mark":{"type":"text","style":"main","color":"#0000ff"},"encoding":{"text":{"field":"m"}}},
      {"data":{"name":"labels"},"transform":[{"filter":"datum.p=='D' && datum.m=='σ'"}],"mark":{"type":"text","style":"sub","color":"#0000ff"},"encoding":{"text":{"field":"sub"}}}
     ]},
    {"encoding":{"y":{"field":"v","type":"quantitative","scale":{"domain":[-1,1],"nice":false},"axis":{"orient":"right","values":[-1,0,1],"title":"Correlation","grid":false,"labelColor":"#808080","titleColor":"#808080","domain":true,"domainColor":"#808080"}}},
     "layer":[
      {"data":{"name":"dD"},"transform":[{"filter":"indexof(datum.s,'R') == 0"}],"mark":{"type":"line","color":"#808080","strokeWidth":1.8},"encoding":{"detail":{"field":"s"}}},
      {"data":{"name":"labels"},"transform":[{"filter":"datum.p=='D' && datum.m=='ρ'"}],"mark":{"type":"text","style":"main","fill":"white","stroke":"white","strokeWidth":5},"encoding":{"text":{"field":"m"}}},
      {"data":{"name":"labels"},"transform":[{"filter":"datum.p=='D' && datum.m=='ρ'"}],"mark":{"type":"text","style":"sub","fill":"white","stroke":"white","strokeWidth":5},"encoding":{"text":{"field":"sub"}}},
      {"data":{"name":"labels"},"transform":[{"filter":"datum.p=='D' && datum.m=='ρ'"}],"mark":{"type":"text","style":"main","color":"#808080"},"encoding":{"text":{"field":"m"}}},
      {"data":{"name":"labels"},"transform":[{"filter":"datum.p=='D' && datum.m=='ρ'"}],"mark":{"type":"text","style":"sub","color":"#808080"},"encoding":{"text":{"field":"sub"}}}
     ]}
   ],
   "resolve":{"scale":{"y":"independent"}}}
 ]}
]},
{"spacing":45,"vconcat":[
 {"spacing":18,"bounds":"flush","title":{"text":"(Block IIF)","fontWeight":"normal","dx":224,"dy":24,"offset":0},"vconcat":[
  {"width":292,"height":53,"title":{"text":"IRNSS L5+GPS L5","dx":31},"data":{"name":"sB"},"mark":{"type":"line","interpolate":"step-after","color":"black","strokeWidth":1.5},
   "encoding":{"x":{"field":"t","type":"quantitative","scale":{"domain":[0,24],"nice":false,"zero":false},"axis":{"values":[0,6,12,18,24],"labels":false,"title":null,"grid":true}},
    "y":{"field":"v","type":"quantitative","scale":{"domain":[7.8,14.2],"nice":false,"zero":false},"axis":{"values":[8,10,12,14],"title":"# satellites","grid":true}}}},
  {"width":292,"height":138,
   "encoding":{"x":{"field":"t","type":"quantitative","scale":{"domain":[0,24],"nice":false,"zero":false},"axis":{"values":[0,6,12,18,24],"labelExpr":"datum.value == 24 ? '00:00' : (datum.value < 10 ? '0' : '') + datum.value + ':00'","title":"UTC [hh:mm]","grid":true,"titlePadding":2}}},
   "layer":[
    {"encoding":{"y":{"field":"v","type":"quantitative","scale":{"domain":[0.2,1],"nice":false,"zero":false},"axis":{"orient":"left","values":[0.2,0.4,0.6,0.8,1],"title":"Standard−deviation [m]","grid":true,"gridColor":"#0000ff","labelColor":"#0000ff","titleColor":"#0000ff","domain":true,"domainColor":"#0000ff"}}},
     "layer":[
      {"data":{"name":"dB"},"transform":[{"filter":"indexof(datum.s,'R') != 0"}],"mark":{"type":"line","color":"#0000ff","strokeWidth":1.8},"encoding":{"detail":{"field":"s"}}},
      {"data":{"name":"labels"},"transform":[{"filter":"datum.p=='B' && datum.m=='σ'"}],"mark":{"type":"text","style":"main","fill":"white","stroke":"white","strokeWidth":5},"encoding":{"text":{"field":"m"}}},
      {"data":{"name":"labels"},"transform":[{"filter":"datum.p=='B' && datum.m=='σ'"}],"mark":{"type":"text","style":"sub","fill":"white","stroke":"white","strokeWidth":5},"encoding":{"text":{"field":"sub"}}},
      {"data":{"name":"labels"},"transform":[{"filter":"datum.p=='B' && datum.m=='σ'"}],"mark":{"type":"text","style":"main","color":"#0000ff"},"encoding":{"text":{"field":"m"}}},
      {"data":{"name":"labels"},"transform":[{"filter":"datum.p=='B' && datum.m=='σ'"}],"mark":{"type":"text","style":"sub","color":"#0000ff"},"encoding":{"text":{"field":"sub"}}}
     ]},
    {"encoding":{"y":{"field":"v","type":"quantitative","scale":{"domain":[-1,1],"nice":false},"axis":{"orient":"right","values":[-1,0,1],"title":"Correlation","grid":false,"labelColor":"#808080","titleColor":"#808080","domain":true,"domainColor":"#5050a0"}}},
     "layer":[
      {"data":{"name":"dB"},"transform":[{"filter":"indexof(datum.s,'R') == 0"}],"mark":{"type":"line","color":"#808080","strokeWidth":1.8},"encoding":{"detail":{"field":"s"}}},
      {"data":{"name":"labels"},"transform":[{"filter":"datum.p=='B' && datum.m=='ρ'"}],"mark":{"type":"text","style":"main","fill":"white","stroke":"white","strokeWidth":5},"encoding":{"text":{"field":"m"}}},
      {"data":{"name":"labels"},"transform":[{"filter":"datum.p=='B' && datum.m=='ρ'"}],"mark":{"type":"text","style":"sub","fill":"white","stroke":"white","strokeWidth":5},"encoding":{"text":{"field":"sub"}}},
      {"data":{"name":"labels"},"transform":[{"filter":"datum.p=='B' && datum.m=='ρ'"}],"mark":{"type":"text","style":"main","color":"#808080"},"encoding":{"text":{"field":"m"}}},
      {"data":{"name":"labels"},"transform":[{"filter":"datum.p=='B' && datum.m=='ρ'"}],"mark":{"type":"text","style":"sub","color":"#808080"},"encoding":{"text":{"field":"sub"}}}
     ]}
   ],
   "resolve":{"scale":{"y":"independent"}}}
 ]},
 {"spacing":17,"bounds":"flush","vconcat":[
  {"width":292,"height":53,"data":{"name":"sE"},"mark":{"type":"line","interpolate":"step-after","color":"black","strokeWidth":1.5},
   "encoding":{"x":{"field":"t","type":"quantitative","scale":{"domain":[0,24],"nice":false,"zero":false},"axis":{"values":[0,6,12,18,24],"labels":false,"title":null,"grid":true}},
    "y":{"field":"v","type":"quantitative","scale":{"domain":[5.8,13.2],"nice":false,"zero":false},"axis":{"values":[6,8,10,12],"title":"# satellites","grid":true}}}},
  {"width":292,"height":138,
   "encoding":{"x":{"field":"t","type":"quantitative","scale":{"domain":[0,24],"nice":false,"zero":false},"axis":{"values":[0,6,12,18,24],"labelExpr":"datum.value == 24 ? '00:00' : (datum.value < 10 ? '0' : '') + datum.value + ':00'","title":"UTC [hh:mm]","grid":true,"titlePadding":2}}},
   "layer":[
    {"encoding":{"y":{"field":"v","type":"quantitative","scale":{"domain":[0.2,1.4],"nice":false,"zero":false},"axis":{"orient":"left","values":[0.2,0.6,1,1.4],"title":"Standard−deviation [m]","grid":true,"gridColor":"#0000ff","labelColor":"#0000ff","titleColor":"#0000ff","domain":true,"domainColor":"#0000ff"}}},
     "layer":[
      {"data":{"name":"dE"},"transform":[{"filter":"indexof(datum.s,'R') != 0"}],"mark":{"type":"line","color":"#0000ff","strokeWidth":1.8},"encoding":{"detail":{"field":"s"}}},
      {"data":{"name":"labels"},"transform":[{"filter":"datum.p=='E' && datum.m=='σ'"}],"mark":{"type":"text","style":"main","fill":"white","stroke":"white","strokeWidth":5},"encoding":{"text":{"field":"m"}}},
      {"data":{"name":"labels"},"transform":[{"filter":"datum.p=='E' && datum.m=='σ'"}],"mark":{"type":"text","style":"sub","fill":"white","stroke":"white","strokeWidth":5},"encoding":{"text":{"field":"sub"}}},
      {"data":{"name":"labels"},"transform":[{"filter":"datum.p=='E' && datum.m=='σ'"}],"mark":{"type":"text","style":"main","color":"#0000ff"},"encoding":{"text":{"field":"m"}}},
      {"data":{"name":"labels"},"transform":[{"filter":"datum.p=='E' && datum.m=='σ'"}],"mark":{"type":"text","style":"sub","color":"#0000ff"},"encoding":{"text":{"field":"sub"}}}
     ]},
    {"encoding":{"y":{"field":"v","type":"quantitative","scale":{"domain":[-1,1],"nice":false},"axis":{"orient":"right","values":[-1,0,1],"title":"Correlation","grid":false,"labelColor":"#808080","titleColor":"#808080","domain":true,"domainColor":"#5050a0"}}},
     "layer":[
      {"data":{"name":"dE"},"transform":[{"filter":"indexof(datum.s,'R') == 0"}],"mark":{"type":"line","color":"#808080","strokeWidth":1.8},"encoding":{"detail":{"field":"s"}}},
      {"data":{"name":"labels"},"transform":[{"filter":"datum.p=='E' && datum.m=='ρ'"}],"mark":{"type":"text","style":"main","fill":"white","stroke":"white","strokeWidth":5},"encoding":{"text":{"field":"m"}}},
      {"data":{"name":"labels"},"transform":[{"filter":"datum.p=='E' && datum.m=='ρ'"}],"mark":{"type":"text","style":"sub","fill":"white","stroke":"white","strokeWidth":5},"encoding":{"text":{"field":"sub"}}},
      {"data":{"name":"labels"},"transform":[{"filter":"datum.p=='E' && datum.m=='ρ'"}],"mark":{"type":"text","style":"main","color":"#808080"},"encoding":{"text":{"field":"m"}}},
      {"data":{"name":"labels"},"transform":[{"filter":"datum.p=='E' && datum.m=='ρ'"}],"mark":{"type":"text","style":"sub","color":"#808080"},"encoding":{"text":{"field":"sub"}}}
     ]}
   ],
   "resolve":{"scale":{"y":"independent"}}}
 ]}
]},
{"spacing":45,"vconcat":[
 {"spacing":18,"bounds":"flush","title":{"text":"(GPS III)","fontWeight":"normal","dx":231,"dy":24,"offset":0},"vconcat":[
  {"width":292,"height":53,"title":{"text":"IRNSS L5+GPS L5","dx":39},"data":{"name":"sC"},"mark":{"type":"line","interpolate":"step-after","color":"black","strokeWidth":1.5},
   "encoding":{"x":{"field":"t","type":"quantitative","scale":{"domain":[0,24],"nice":false,"zero":false},"axis":{"values":[0,6,12,18,24],"labels":false,"title":null,"grid":true}},
    "y":{"field":"v","type":"quantitative","scale":{"domain":[14.8,20.2],"nice":false,"zero":false},"axis":{"values":[15,20],"title":"# satellites","grid":true}}}},
  {"width":292,"height":138,
   "encoding":{"x":{"field":"t","type":"quantitative","scale":{"domain":[0,24],"nice":false,"zero":false},"axis":{"values":[0,6,12,18,24],"labelExpr":"datum.value == 24 ? '00:00' : (datum.value < 10 ? '0' : '') + datum.value + ':00'","title":"UTC [hh:mm]","grid":true,"titlePadding":2}}},
   "layer":[
    {"encoding":{"y":{"field":"v","type":"quantitative","scale":{"domain":[0,1],"nice":false,"zero":false},"axis":{"orient":"left","values":[0,0.5,1],"title":"Standard−deviation [m]","grid":true,"gridColor":"#0000ff","labelColor":"#0000ff","titleColor":"#0000ff","domain":true,"domainColor":"#0000ff"}}},
     "layer":[
      {"data":{"name":"dC"},"transform":[{"filter":"indexof(datum.s,'R') != 0"}],"mark":{"type":"line","color":"#0000ff","strokeWidth":1.8},"encoding":{"detail":{"field":"s"}}},
      {"data":{"name":"labels"},"transform":[{"filter":"datum.p=='C' && datum.m=='σ'"}],"mark":{"type":"text","style":"main","fill":"white","stroke":"white","strokeWidth":5},"encoding":{"text":{"field":"m"}}},
      {"data":{"name":"labels"},"transform":[{"filter":"datum.p=='C' && datum.m=='σ'"}],"mark":{"type":"text","style":"sub","fill":"white","stroke":"white","strokeWidth":5},"encoding":{"text":{"field":"sub"}}},
      {"data":{"name":"labels"},"transform":[{"filter":"datum.p=='C' && datum.m=='σ'"}],"mark":{"type":"text","style":"main","color":"#0000ff"},"encoding":{"text":{"field":"m"}}},
      {"data":{"name":"labels"},"transform":[{"filter":"datum.p=='C' && datum.m=='σ'"}],"mark":{"type":"text","style":"sub","color":"#0000ff"},"encoding":{"text":{"field":"sub"}}}
     ]},
    {"encoding":{"y":{"field":"v","type":"quantitative","scale":{"domain":[-1,1],"nice":false},"axis":{"orient":"right","values":[-1,0,1],"title":"Correlation","grid":false,"labelColor":"#808080","titleColor":"#808080","domain":true,"domainColor":"#5050a0"}}},
     "layer":[
      {"data":{"name":"dC"},"transform":[{"filter":"indexof(datum.s,'R') == 0"}],"mark":{"type":"line","color":"#808080","strokeWidth":1.8},"encoding":{"detail":{"field":"s"}}},
      {"data":{"name":"labels"},"transform":[{"filter":"datum.p=='C' && datum.m=='ρ'"}],"mark":{"type":"text","style":"main","fill":"white","stroke":"white","strokeWidth":5},"encoding":{"text":{"field":"m"}}},
      {"data":{"name":"labels"},"transform":[{"filter":"datum.p=='C' && datum.m=='ρ'"}],"mark":{"type":"text","style":"sub","fill":"white","stroke":"white","strokeWidth":5},"encoding":{"text":{"field":"sub"}}},
      {"data":{"name":"labels"},"transform":[{"filter":"datum.p=='C' && datum.m=='ρ'"}],"mark":{"type":"text","style":"main","color":"#808080"},"encoding":{"text":{"field":"m"}}},
      {"data":{"name":"labels"},"transform":[{"filter":"datum.p=='C' && datum.m=='ρ'"}],"mark":{"type":"text","style":"sub","color":"#808080"},"encoding":{"text":{"field":"sub"}}}
     ]}
   ],
   "resolve":{"scale":{"y":"independent"}}}
 ]},
 {"spacing":17,"bounds":"flush","vconcat":[
  {"width":292,"height":53,"data":{"name":"sF"},"mark":{"type":"line","interpolate":"step-after","color":"black","strokeWidth":1.5},
   "encoding":{"x":{"field":"t","type":"quantitative","scale":{"domain":[0,24],"nice":false,"zero":false},"axis":{"values":[0,6,12,18,24],"labels":false,"title":null,"grid":true}},
    "y":{"field":"v","type":"quantitative","scale":{"domain":[11.8,17.2],"nice":false,"zero":false},"axis":{"values":[12,14,16],"title":"# satellites","grid":true}}}},
  {"width":292,"height":138,
   "encoding":{"x":{"field":"t","type":"quantitative","scale":{"domain":[0,24],"nice":false,"zero":false},"axis":{"values":[0,6,12,18,24],"labelExpr":"datum.value == 24 ? '00:00' : (datum.value < 10 ? '0' : '') + datum.value + ':00'","title":"UTC [hh:mm]","grid":true,"titlePadding":2}}},
   "layer":[
    {"encoding":{"y":{"field":"v","type":"quantitative","scale":{"domain":[0,1],"nice":false,"zero":false},"axis":{"orient":"left","values":[0,0.5,1],"title":"Standard−deviation [m]","grid":true,"gridColor":"#0000ff","labelColor":"#0000ff","titleColor":"#0000ff","domain":true,"domainColor":"#0000ff"}}},
     "layer":[
      {"data":{"name":"dF"},"transform":[{"filter":"indexof(datum.s,'R') != 0"}],"mark":{"type":"line","color":"#0000ff","strokeWidth":1.8},"encoding":{"detail":{"field":"s"}}},
      {"data":{"name":"labels"},"transform":[{"filter":"datum.p=='F' && datum.m=='σ'"}],"mark":{"type":"text","style":"main","fill":"white","stroke":"white","strokeWidth":5},"encoding":{"text":{"field":"m"}}},
      {"data":{"name":"labels"},"transform":[{"filter":"datum.p=='F' && datum.m=='σ'"}],"mark":{"type":"text","style":"sub","fill":"white","stroke":"white","strokeWidth":5},"encoding":{"text":{"field":"sub"}}},
      {"data":{"name":"labels"},"transform":[{"filter":"datum.p=='F' && datum.m=='σ'"}],"mark":{"type":"text","style":"main","color":"#0000ff"},"encoding":{"text":{"field":"m"}}},
      {"data":{"name":"labels"},"transform":[{"filter":"datum.p=='F' && datum.m=='σ'"}],"mark":{"type":"text","style":"sub","color":"#0000ff"},"encoding":{"text":{"field":"sub"}}}
     ]},
    {"encoding":{"y":{"field":"v","type":"quantitative","scale":{"domain":[-1,1],"nice":false},"axis":{"orient":"right","values":[-1,0,1],"title":"Correlation","grid":false,"labelColor":"#808080","titleColor":"#808080","domain":true,"domainColor":"#5050a0"}}},
     "layer":[
      {"data":{"name":"dF"},"transform":[{"filter":"indexof(datum.s,'R') == 0"}],"mark":{"type":"line","color":"#808080","strokeWidth":1.8},"encoding":{"detail":{"field":"s"}}},
      {"data":{"name":"labels"},"transform":[{"filter":"datum.p=='F' && datum.m=='ρ'"}],"mark":{"type":"text","style":"main","fill":"white","stroke":"white","strokeWidth":5},"encoding":{"text":{"field":"m"}}},
      {"data":{"name":"labels"},"transform":[{"filter":"datum.p=='F' && datum.m=='ρ'"}],"mark":{"type":"text","style":"sub","fill":"white","stroke":"white","strokeWidth":5},"encoding":{"text":{"field":"sub"}}},
      {"data":{"name":"labels"},"transform":[{"filter":"datum.p=='F' && datum.m=='ρ'"}],"mark":{"type":"text","style":"main","color":"#808080"},"encoding":{"text":{"field":"m"}}},
      {"data":{"name":"labels"},"transform":[{"filter":"datum.p=='F' && datum.m=='ρ'"}],"mark":{"type":"text","style":"sub","color":"#808080"},"encoding":{"text":{"field":"sub"}}}
     ]}
   ],
   "resolve":{"scale":{"y":"independent"}}}
 ]}
]}
]
}
